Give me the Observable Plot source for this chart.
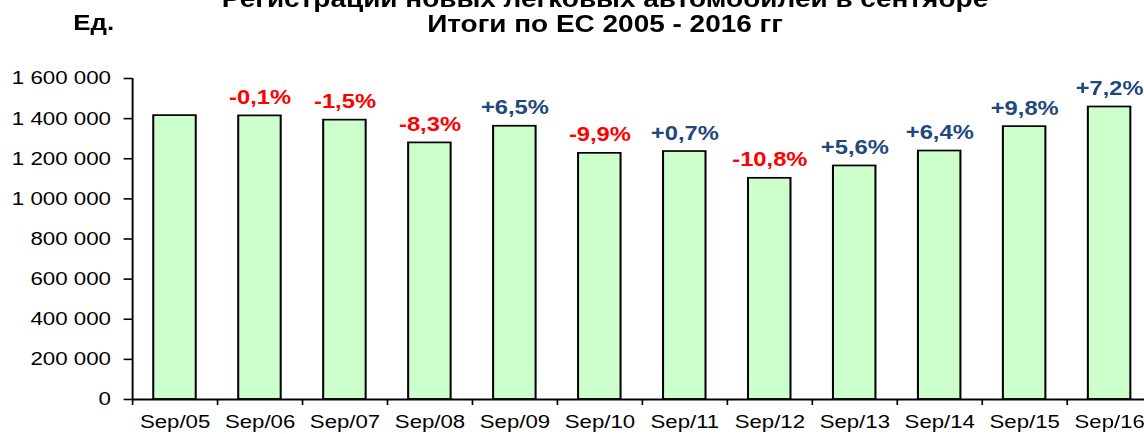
<!DOCTYPE html>
<html>
<head>
<meta charset="utf-8">
<script src="https://cdn.jsdelivr.net/npm/d3@7"></script>
<script src="https://cdn.jsdelivr.net/npm/@observablehq/plot@0.6"></script>
<style>
  html, body { margin: 0; padding: 0; background: white; overflow: hidden; width: 1144px; height: 434px; }
  #wrap { position: relative; height: 434px; transform-origin: 0 0; font-family: "Liberation Sans", Arial, sans-serif; }
  .ttl { position: absolute; white-space: nowrap; font-weight: bold; color: black; transform: translateX(-50%); text-align: center; }
  .unit { position: absolute; white-space: nowrap; font-weight: bold; color: black; }
</style>
</head>
<body>
<div id="wrap"></div>
<script>
// ---- data ----
const categories = ["Sep/05","Sep/06","Sep/07","Sep/08","Sep/09","Sep/10","Sep/11","Sep/12","Sep/13","Sep/14","Sep/15","Sep/16"];
const registrations = [1415000, 1413600, 1392400, 1279000, 1362000, 1227000, 1236000, 1102500, 1164000, 1238500, 1360000, 1458000];
const changeLabels = [null, "-0,1%", "-1,5%", "-8,3%", "+6,5%", "-9,9%", "+0,7%", "-10,8%", "+5,6%", "+6,4%", "+9,8%", "+7,2%"];
const yTicks = [0, 200000, 400000, 600000, 800000, 1000000, 1200000, 1400000, 1600000];
const titleLines = ["Регистрации новых легковых автомобилей в сентябре", "Итоги по ЕС 2005 - 2016 гг"];
const unitLabel = "Ед.";

const table = categories.map((c, i) => ({cat: c, value: registrations[i], change: changeLabels[i]}));

// horizontal stretch of the original rendering
const s = 1.2;
const W = 1144 / s;
const x0 = 132 / s, x1 = 1151.6 / s;
const step = (x1 - x0) / categories.length;

const wrap = document.getElementById("wrap");
wrap.style.width = W + "px";
wrap.style.transform = `scaleX(${s})`;

const fmt = d3.formatLocale({decimal: ",", thousands: "\u00a0", grouping: [3], currency: ["", ""]}).format(",d");

const plot = Plot.plot({
  width: W,
  height: 434,
  marginTop: 78,
  marginBottom: 35,
  marginLeft: x0,
  marginRight: 0,
  style: {fontFamily: "'Liberation Sans', Arial, sans-serif", background: "white", color: "black", overflow: "visible"},
  x: {domain: categories, range: [x0, x1], paddingInner: 0.5, paddingOuter: 0.25, round: false},
  y: {domain: [0, 1600000]},
  marks: [
    Plot.barY(table, {x: "cat", y: "value", fill: "#CCFFCC", stroke: "black", strokeWidth: 1.7}),
    Plot.ruleY([0], {stroke: "black", strokeWidth: 1.8}),
    Plot.ruleX([categories[0]], {y1: 0, y2: 1600000, dx: -step / 2, stroke: "black", strokeWidth: 1.6}),
    Plot.ruleX(categories, {y1: 0, y2: 0, insetBottom: -6, dx: -step / 2, stroke: "black", strokeWidth: 1.4}),
    Plot.axisY({ticks: yTicks, tickSize: 7, tickPadding: 11, tickFormat: fmt, fontSize: 18.6, strokeWidth: 1.6, label: null}),
    Plot.axisX({tickSize: 0, tickPadding: 15.5, fontSize: 18.5, label: null}),
    Plot.text(table.filter(d => d.change), {
      x: "cat", y: "value", text: "change",
      lineAnchor: "bottom", dy: -12,
      fontSize: 19.8, fontWeight: "bold",
      fill: d => d.change.startsWith("-") ? "#FF0000" : "#1F497D"
    })
  ]
});
plot.style.position = "absolute";
plot.style.left = "0px";
plot.style.top = "0px";
plot.style.maxWidth = "none";
wrap.appendChild(plot);

// titles
const t = document.createElement("div");
t.className = "ttl";
t.style.left = (605 / s) + "px";
t.style.top = "-13.5px";
t.style.fontSize = "23.3px";
t.style.lineHeight = "25px";
t.innerHTML = titleLines.map(l => `<div>${l}</div>`).join("");
wrap.appendChild(t);

const u = document.createElement("div");
u.className = "unit";
u.style.left = (73.3 / s) + "px";
u.style.top = "12.8px";
u.style.fontSize = "21.5px";
u.style.lineHeight = "1";
u.textContent = unitLabel;
wrap.appendChild(u);
</script>
</body>
</html>
